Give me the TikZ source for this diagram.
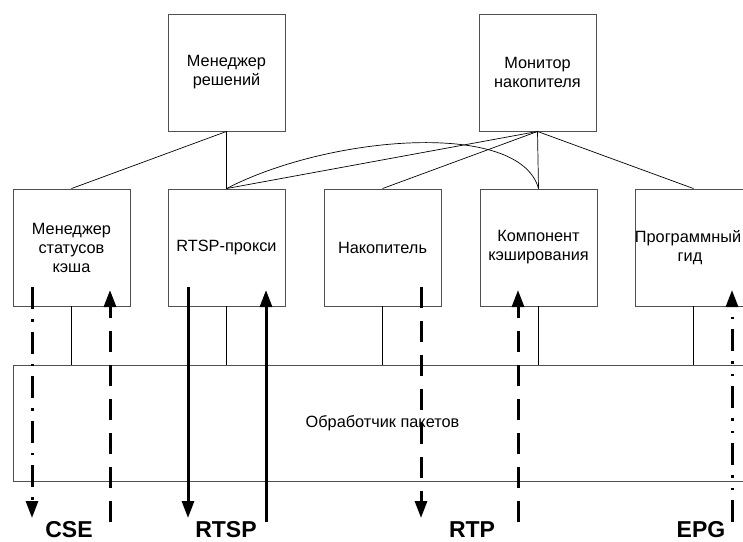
\documentclass[tikz,border=0pt]{standalone}
\usepackage{fontspec}
\setmainfont{Liberation Sans}
\usepackage{xcolor}
\usepackage{tikz}
\usetikzlibrary{arrows.meta, positioning}

\definecolor{framegray}{HTML}{505050}

\begin{document}
\begin{tikzpicture}[
    x=1pt, y=-1pt,
    >={Triangle[length=17pt, width=12pt]},
    box/.style={draw=framegray, line width=0.9pt, minimum width=117pt,
        minimum height=117pt, inner sep=0pt, align=center,
        font=\fontsize{16.3}{19}\selectfont},
    link/.style={line width=0.7pt},
    flowsolid/.style={line width=3pt, ->},
    flowdash/.style={line width=3pt, ->, dash pattern=on 21pt off 13pt},
    flowdot/.style={line width=3pt, ->, dash pattern=on 22pt off 10pt on 2.5pt off 10pt},
    flowdotdot/.style={line width=3pt, ->,
        dash pattern=on 22pt off 10pt on 2.5pt off 10pt on 2.5pt off 10pt},
    proto/.style={font=\bfseries\fontsize{23}{25}\selectfont, anchor=base}
]

\useasboundingbox (0,0) rectangle (743,541);

% =========================================================
% TOP: managers
% =========================================================
\node[box] (decision) at (226.5,72.5) {Менеджер\\решений};
\node[box] (monitor) at (537.5,72.5) {Монитор\\накопителя};

% =========================================================
% MIDDLE: components
% =========================================================
\node[box] (cachestat) at (71.5,247.5) {Менеджер\\статусов\\кэша};
\node[box] (proxy) at (226.5,247.5) {RTSP-прокси};
\node[box] (store) at (382.5,247.5) {Накопитель};
\node[box] (cacher) at (538.5,247.5) {Компонент\\кэширования};
\node[box] (guide) at (693.5,247.5) {\hspace*{-11pt}Программный\\\hspace*{-7pt}гид};

% =========================================================
% BOTTOM: packet handler
% =========================================================
\node[draw=framegray, line width=0.9pt, minimum width=739pt, minimum height=116pt,
    inner sep=0pt, font=\fontsize{16.3}{19}\selectfont] (packets) at (382.5,423) {Обработчик пакетов};

% links between boxes
\draw[link] (decision.south) -- (cachestat.north);
\draw[link] (decision.south) -- (proxy.north);
\draw[link] (monitor.south) -- (proxy.north);
\draw[link] (monitor.south) -- (store.north);
\draw[link] (monitor.south) -- (cacher.north);
\draw[link] (monitor.south) -- (guide.north);
\draw[link] (proxy.north) .. controls (330,135) and (520,120) .. (cacher.north);

\foreach \comp in {cachestat, proxy, store, cacher, guide}
    \draw[link] (\comp.south) -- (\comp.south |- packets.north);

% =========================================================
% FLOWS and protocol labels
% =========================================================
\node[proto] (cse) at (69,537) {CSE};
\node[proto] (rtsp) at (226,537) {RTSP};
\node[proto] (rtp) at (472,537) {RTP};
\node[proto] (epg) at (701,537) {EPG};

\coordinate (cseout) at (32,287);
\coordinate (csein) at (110,522);
\coordinate (rtspout) at (188,287);
\coordinate (rtspin) at (266,522);
\coordinate (rtpout) at (421,287);
\coordinate (cachein) at (518,522);
\coordinate (epgin) at (732,522);

\draw[flowdot] (cseout) -- (32,518);
\draw[flowdash] (csein) -- (110,290);
\draw[flowsolid] (rtspout) -- (188,518);
\draw[flowsolid] (rtspin) -- (266,290);
\draw[flowdash] (rtpout) -- (421,518);
\draw[flowdash] (cachein) -- (518,290);
\draw[flowdotdot] (epgin) -- (732,290);

\end{tikzpicture}
\end{document}
